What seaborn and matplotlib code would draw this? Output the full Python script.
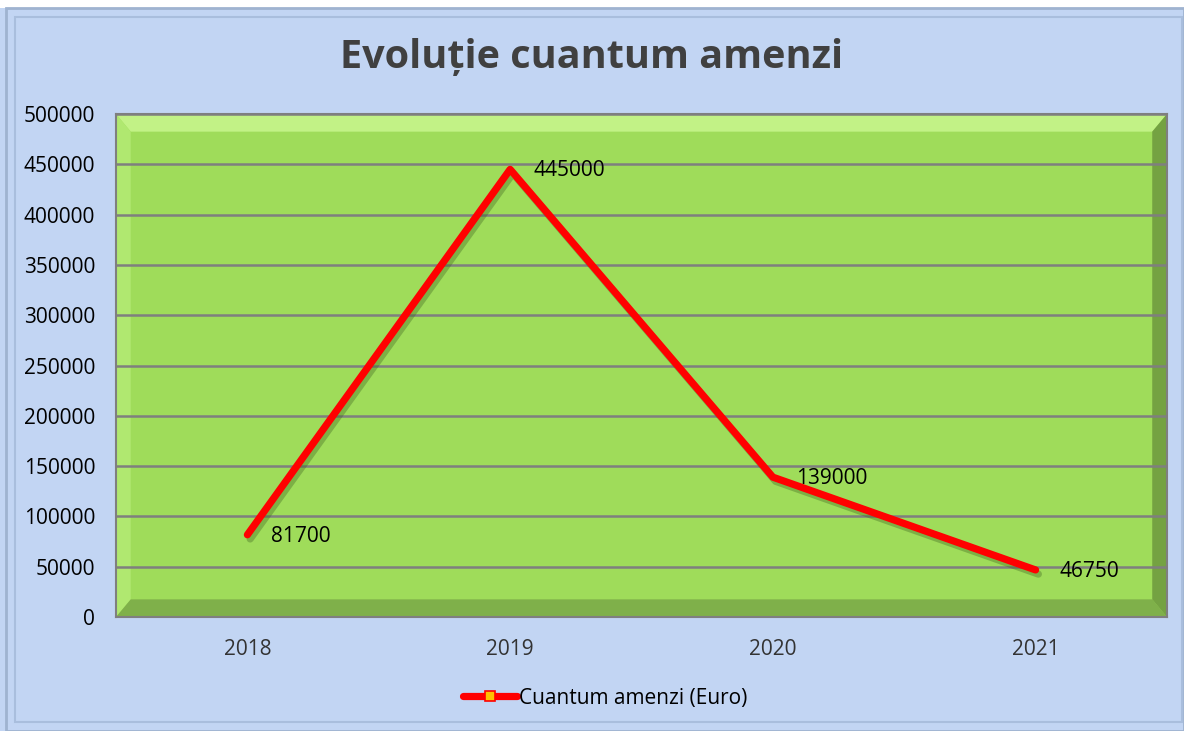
import numpy as np
import pandas as pd
import seaborn as sns
import matplotlib.pyplot as plt
import matplotlib.patheffects as pe
from matplotlib.patches import Polygon, Rectangle
from matplotlib.lines import Line2D

years = ["2018", "2019", "2020", "2021"]
amounts = [81700, 445000, 139000, 46750]
series_name = "Cuantum amenzi (Euro)"
title = "Evoluție cuantum amenzi"
y_ticks = list(range(0, 500001, 50000))

df = pd.DataFrame({"year": years, "amount": amounts, "pos": range(len(years))})

sns.set_theme(style="white")
plt.rcParams["font.family"] = ["Open Sans", "DejaVu Sans"]

bg = "#C2D5F3"
green = "#9FDC5A"

fig = plt.figure(figsize=(11.84, 7.31), dpi=100, facecolor=bg)
ax = fig.add_axes([0.098, 0.156, 0.8876, 0.688])
ax.set_facecolor(green)

# outer frame of the chart area
fig.patches.append(Rectangle((0, 0.989), 1, 0.011, transform=fig.transFigure,
                             facecolor="white", edgecolor="none", zorder=0))
fig.patches.append(Rectangle((0.005, 0.0), 0.995, 0.989, transform=fig.transFigure,
                             facecolor="none", edgecolor="#9FB3D0", lw=2, zorder=0))
fig.patches.append(Rectangle((0.013, 0.012), 0.985, 0.965, transform=fig.transFigure,
                             facecolor="none", edgecolor="#A9BEDD", lw=1.5, zorder=0))

# bevel of the plot area
bx, by = 0.014, 0.035
bevel = [
    ([(0, 1), (1, 1), (1 - bx, 1 - by), (bx, 1 - by)], "#C2F286"),
    ([(0, 0), (0, 1), (bx, 1 - by), (bx, by)], "#B0E870"),
    ([(0, 0), (1, 0), (1 - bx, by), (bx, by)], "#7FB04A"),
    ([(1, 0), (1, 1), (1 - bx, 1 - by), (1 - bx, by)], "#74A242"),
]
for pts, c in bevel:
    ax.add_patch(Polygon(pts, closed=True, transform=ax.transAxes,
                         facecolor=c, edgecolor="none", zorder=0.1))

sns.lineplot(data=df, x="pos", y="amount", ax=ax, color="#FF0000", lw=5.2,
             solid_capstyle="round", solid_joinstyle="round", zorder=3, legend=False)
ax.lines[0].set_path_effects([
    pe.SimpleLineShadow(offset=(2, -3), shadow_color="#3C6020", alpha=0.35),
    pe.Normal(),
])

for i, v in enumerate(amounts):
    ax.annotate(str(v), (i, v), xytext=(17, -1), textcoords="offset points",
                ha="left", va="center", fontsize=15, color="black", zorder=4)

ax.set_xlim(-0.5, len(years) - 0.5)
ax.set_ylim(0, 500000)
ax.set_xticks(range(len(years)))
ax.set_xticklabels(years)
ax.set_yticks(y_ticks)
ax.set_yticklabels([str(t) for t in y_ticks])
ax.tick_params(axis="y", length=0, pad=15, labelsize=15, labelcolor="black")
ax.tick_params(axis="x", length=0, pad=16, labelsize=15, labelcolor="#333333")
ax.set_xlabel("")
ax.set_ylabel("")
ax.set_axisbelow(True)
ax.yaxis.grid(True, color="#7F7F7F", lw=1.8)
for s in ax.spines.values():
    s.set_color("#7F7F7F")
    s.set_linewidth(1.5)

fig.text(0.5, 0.922, title, ha="center", va="center", fontsize=28.5,
         fontweight="bold", color="#404040")

handle = Line2D([], [], color="#FF0000", lw=5.2, solid_capstyle="round",
                marker="s", markersize=7.5, markerfacecolor="#FFC000",
                markeredgecolor="#FF0000", markeredgewidth=1.2)
fig.legend([handle], [series_name], loc="center", bbox_to_anchor=(0.511, 0.045),
           frameon=False, fontsize=15, handlelength=2.6, handletextpad=0.1,
           labelcolor="black")

fig.savefig("out.png", dpi=100, facecolor=bg)
